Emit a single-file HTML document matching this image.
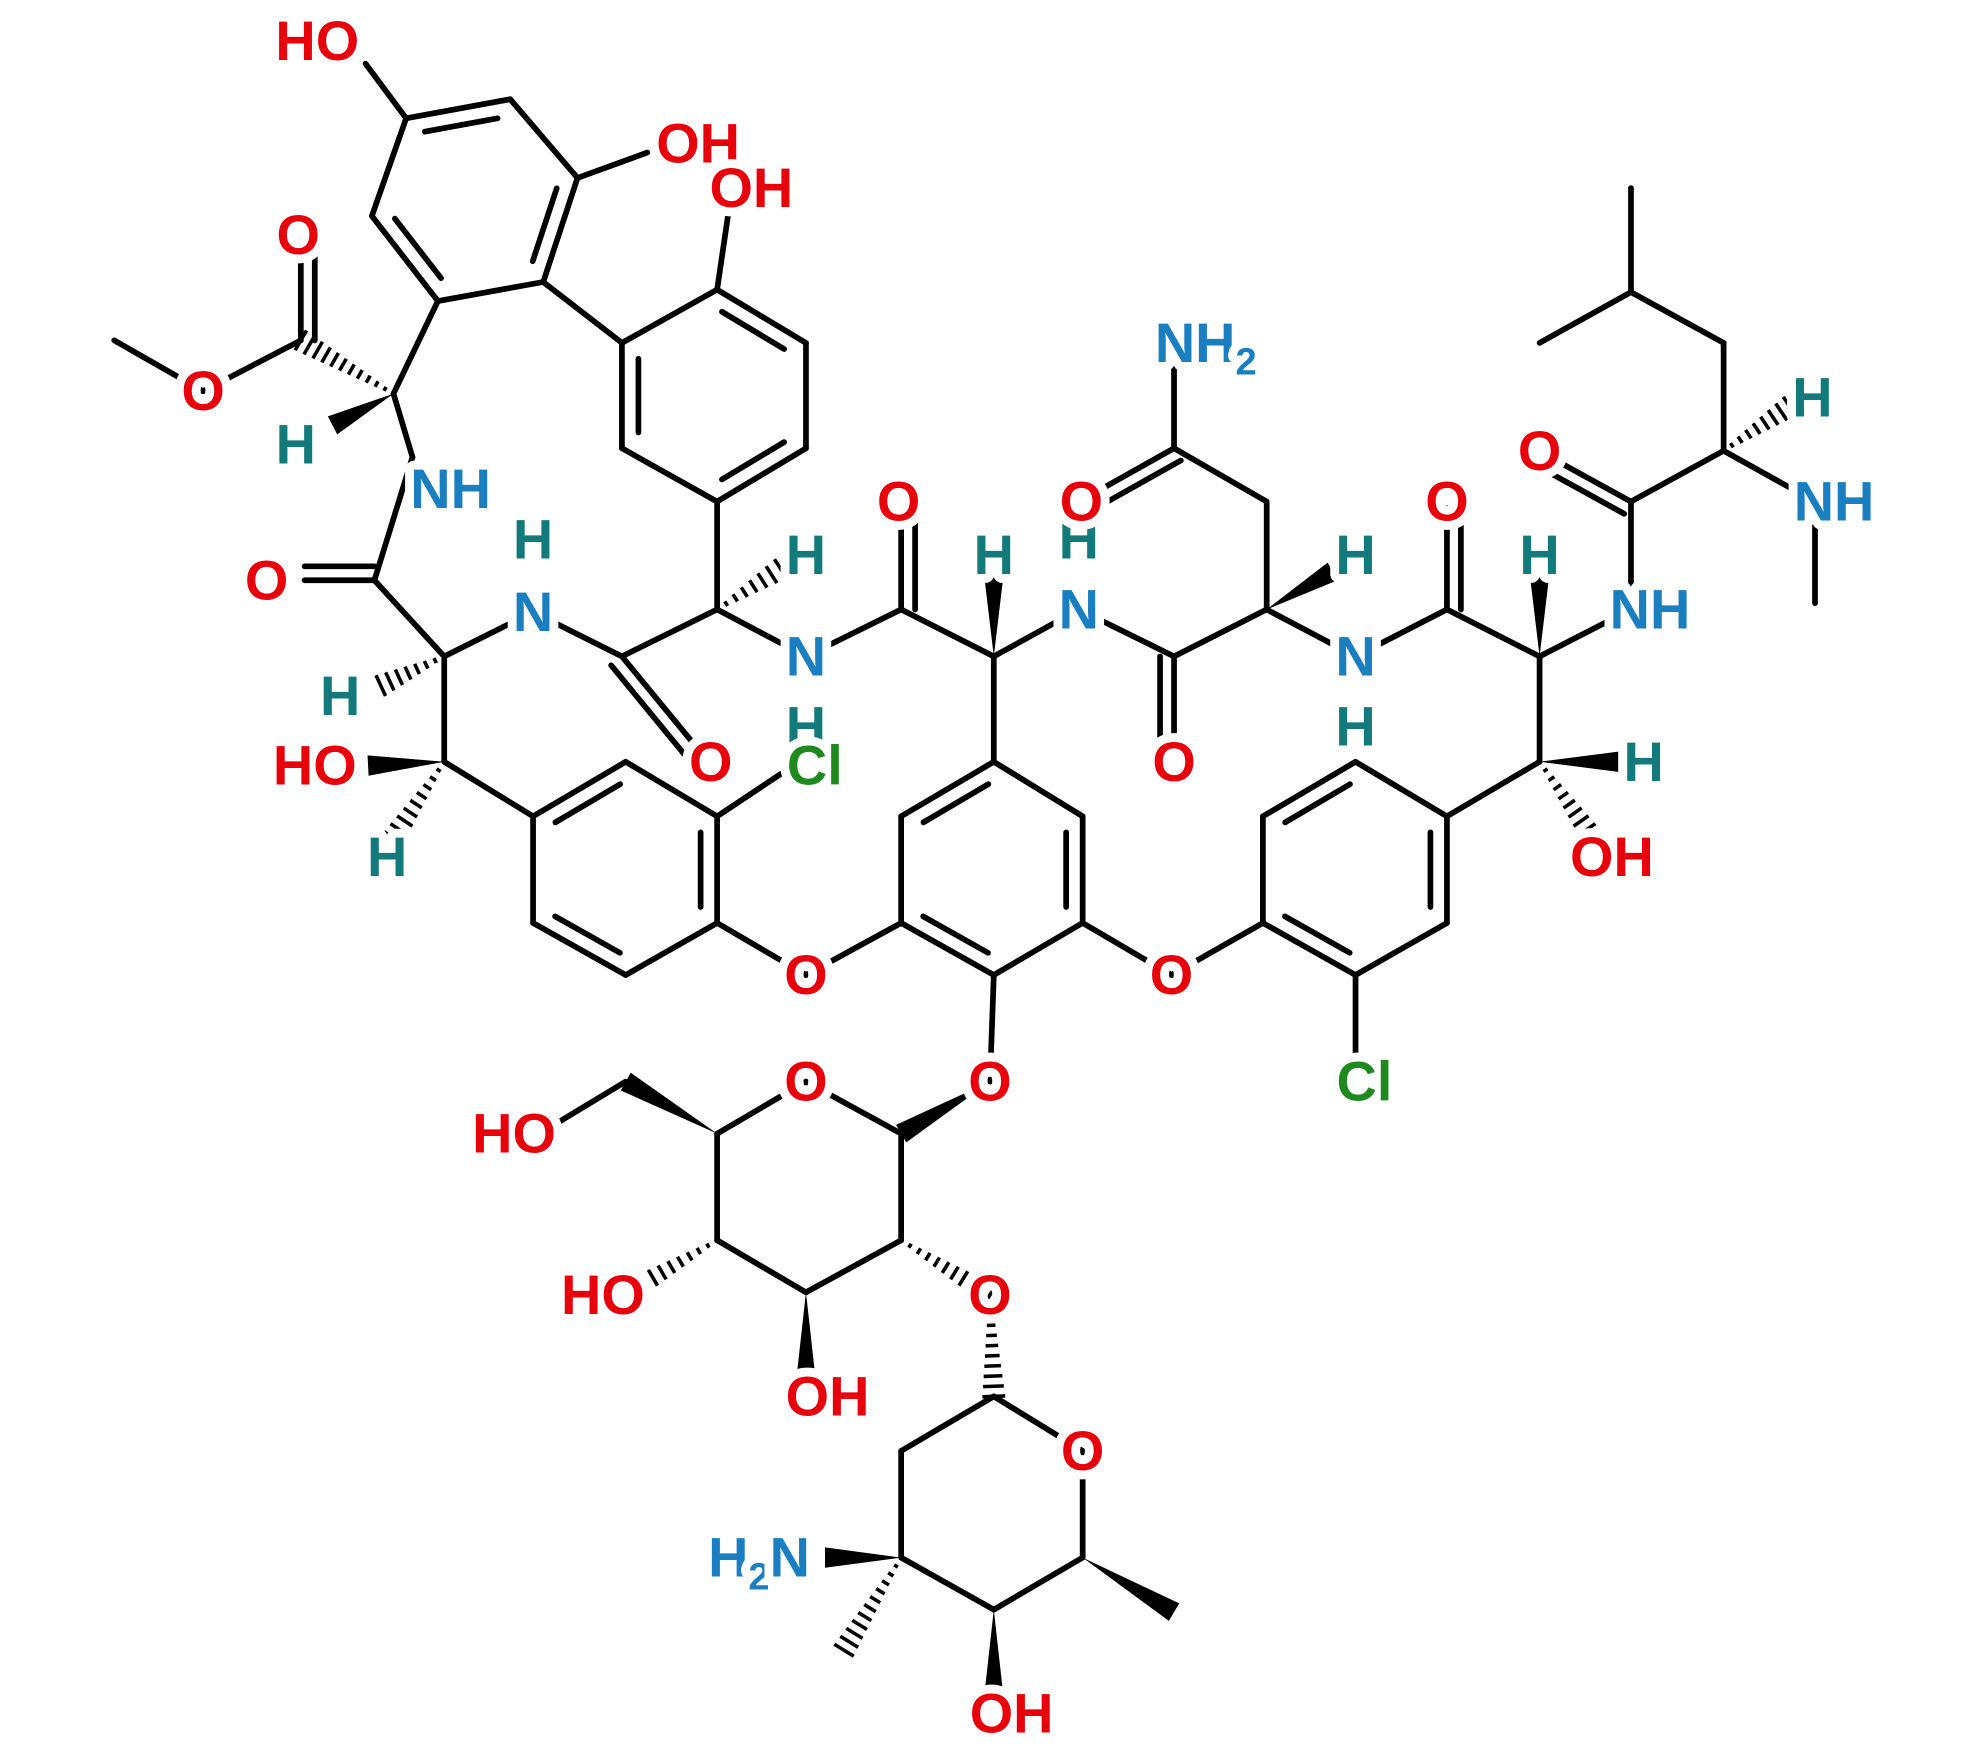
<!DOCTYPE html>
<html><head><meta charset="utf-8"><style>
html,body{margin:0;padding:0;background:#fff;}
svg{display:block;}
text{font-family:"Liberation Sans",Arial,sans-serif;font-weight:bold;font-size:44px;paint-order:stroke;stroke:#fff;stroke-width:14px;stroke-linejoin:round;}
</style></head><body>
<svg id="s" xmlns="http://www.w3.org/2000/svg" width="1980" height="1752" viewBox="0 0 1560 1380"></svg>
<script>
const s=document.getElementById('s');const NS='http://www.w3.org/2000/svg';
function el(t,a){const e=document.createElementNS(NS,t);for(const k in a)e.setAttribute(k,a[k]);s.appendChild(e);return e;}
const P={
a1:[320,93],a2:[402,78],a3:[455,140],a4:[428,222],a5:[345,237],a6:[293,170],
aHO:[288,50],aOH:[510,120],
ca1:[310,310],est:[237,268],estO:[237,190],estO2:[160,308],me:[90,268],h1:[262,335],
nh1:[325,360],c1:[295,457],o1:[240,457],ca2:[350,517],h2:[300,540],n2:[420,482],
c2:[490,517],o2:[550,590],ca3:[565,480],h3:[615,448],n3:[635,517],c3:[710,480],o3:[710,400],
ca4:[783,517],h4:[783,450],n4:[850,480],c4:[925,517],o4:[925,590],ca5:[998,480],h5:[1050,450],
cb5:[998,395],cam:[925,353],oam:[868,385],nam:[925,285],n5:[1068,517],c5:[1140,480],o5:[1140,400],
ca6:[1213,517],h6:[1213,450],n6:[1285,480],c6:[1285,395],o6:[1225,362],ca7:[1358,355],h7:[1410,320],
n7:[1430,395],me7:[1430,475],cb7:[1358,270],cg7:[1285,230],m71:[1285,148],m72:[1213,270],
cb6:[1213,600],hb6:[1275,600],ob6:[1255,660],
b1:[565,395],b2:[490,353],b3:[490,270],b4:[565,228],b5:[635,270],b6:[635,353],bOH:[575,160],
cb2:[350,600],hob2:[290,603],hb2:[310,660],
c_1:[420,643],c_2:[493,600],c_3:[565,643],c_4:[565,727],c_5:[493,768],c_6:[420,727],cl1:[625,603],
o7:[635,768],
e1:[783,600],e2:[853,643],e3:[853,727],e4:[783,768],e5:[710,727],e6:[710,643],
o8:[923,768],o9:[780,852],
d1:[1140,643],d2:[1068,600],d3:[995,643],d4:[995,727],d5:[1068,768],d6:[1140,727],cl2:[1068,840],
s1:[710,893],so:[635,852],s5:[565,893],s6:[493,852],s6o:[425,893],s4:[565,977],s4o:[500,1015],
s3:[635,1018],s3o:[635,1090],s2:[710,977],s2o:[780,1020],
t1:[783,1100],to:[853,1143],t5:[853,1227],t5m:[925,1270],t4:[783,1268],t4o:[783,1340],
t3:[710,1227],t3n:[650,1227],t3m:[665,1300],t2:[710,1143]
};
const W=4.5;
function line(a,b){el('line',{x1:a[0],y1:a[1],x2:b[0],y2:b[1],stroke:'#000','stroke-width':W,'stroke-linecap':'round'});}
function B(a,b){line(P[a],P[b]);}
function inner(a,b,cx,cy){const p=P[a],q=P[b];const dx=q[0]-p[0],dy=q[1]-p[1];const L=Math.hypot(dx,dy);let nx=-dy/L,ny=dx/L;
const mx=(p[0]+q[0])/2,my=(p[1]+q[1])/2;if((cx-mx)*nx+(cy-my)*ny<0){nx=-nx;ny=-ny;}const o=13,sh=0.15;
line([p[0]+dx*sh+nx*o,p[1]+dy*sh+ny*o],[q[0]-dx*sh+nx*o,q[1]-dy*sh+ny*o]);}
function ring(k,pairs){const pts=[1,2,3,4,5,6].map(i=>P[k+i]);const cx=pts.reduce((a,p)=>a+p[0],0)/6,cy=pts.reduce((a,p)=>a+p[1],0)/6;
for(let i=1;i<=6;i++)B(k+i,k+(i%6+1));pairs.forEach(([i,j])=>inner(k+i,k+j,cx,cy));}
function dbl(a,b,side){const p=P[a],q=P[b];const dx=q[0]-p[0],dy=q[1]-p[1];const L=Math.hypot(dx,dy);const nx=-dy/L*side*11,ny=dx/L*side*11;
line(p,q);line([p[0]+nx,p[1]+ny],[q[0]+nx,q[1]+ny]);}
function wedge(a,b){const p=P[a],q=P[b];const dx=q[0]-p[0],dy=q[1]-p[1];const L=Math.hypot(dx,dy);const nx=-dy/L*8,ny=dx/L*8;
el('polygon',{points:`${p[0]},${p[1]} ${q[0]+nx},${q[1]+ny} ${q[0]-nx},${q[1]-ny}`,fill:'#000'});}
function hash(a,b){const p=P[a],q=P[b];const dx=q[0]-p[0],dy=q[1]-p[1];const L=Math.hypot(dx,dy);const n=Math.max(5,Math.round(L/8));
for(let i=1;i<=n;i++){const t=i/n;const w=1+8*t;const nx=-dy/L*w,ny=dx/L*w;const x=p[0]+dx*t,y=p[1]+dy*t;
el('line',{x1:x+nx,y1:y+ny,x2:x-nx,y2:y-ny,stroke:'#000','stroke-width':2.8});}}
ring('a',[[1,2],[3,4],[5,6]]);ring('b',[[2,3],[4,5],[6,1]]);ring('c_',[]);
(function(){const k='c_';const pts=[1,2,3,4,5,6].map(i=>P[k+i]);const cx=pts.reduce((a,p)=>a+p[0],0)/6,cy=pts.reduce((a,p)=>a+p[1],0)/6;
[[1,2],[3,4],[5,6]].forEach(([i,j])=>inner(k+i,k+j,cx,cy));})();
ring('e',[[6,1],[2,3],[4,5]]);ring('d',[[2,3],[6,1],[4,5]]);
[['a1','aHO'],['a3','aOH'],['a5','ca1'],['est','estO2'],['estO2','me'],['ca1','nh1'],['nh1','c1'],['c1','ca2'],['ca2','n2'],['n2','c2'],
['c2','ca3'],['ca3','b1'],['ca3','n3'],['n3','c3'],['c3','ca4'],['ca4','n4'],['n4','c4'],['c4','ca5'],['ca5','cb5'],['cb5','cam'],['cam','nam'],
['ca5','n5'],['n5','c5'],['c5','ca6'],['ca6','n6'],['n6','c6'],['c6','ca7'],['ca7','n7'],['n7','me7'],['ca7','cb7'],['cb7','cg7'],['cg7','m71'],['cg7','m72'],
['ca6','cb6'],['cb6','d1'],['b4','bOH'],['b3','a4'],['ca2','cb2'],['cb2','c_1'],['c_3','cl1'],['c_4','o7'],['o7','e5'],['ca4','e1'],
['e3','o8'],['o8','d4'],['e4','o9'],['d5','cl2'],
['s1','so'],['so','s5'],['s5','s4'],['s4','s3'],['s3','s2'],['s2','s1'],['s6','s6o'],
['t1','to'],['to','t5'],['t5','t4'],['t4','t3'],['t3','t2'],['t2','t1']
].forEach(([a,b])=>B(a,b));
dbl('est','estO',1);dbl('c1','o1',1);dbl('c2','o2',1);dbl('c3','o3',1);dbl('c4','o4',1);dbl('cam','oam',-1);dbl('c5','o5',1);dbl('c6','o6',-1);
hash('ca1','est');wedge('ca1','h1');hash('ca2','h2');hash('ca3','h3');wedge('ca4','h4');wedge('ca5','h5');wedge('ca6','h6');hash('ca7','h7');
wedge('cb6','hb6');hash('cb6','ob6');wedge('cb2','hob2');hash('cb2','hb2');
wedge('o9','s1');wedge('s5','s6');hash('s4','s4o');wedge('s3','s3o');hash('s2','s2o');
hash('s2o','t1');wedge('t5','t5m');wedge('t4','t4o');wedge('t3','t3n');hash('t3','t3m');
const R='#e8000b',N='#1a7fc1',H='#127a7a',G='#1e8a1e';
function T(x,y,t,c,anchor){const e=el('text',{x:x,y:y+15,fill:c,'text-anchor':anchor||'middle'});e.innerHTML=t;}
T(250,32,'HO',R);T(550,113,'OH',R);T(592,148,'OH',R);T(235,185,'O',R);T(160,308,'O',R);T(233,350,'H',H);
T(355,385,'NH',N);T(210,457,'O',R);T(420,425,'H',H);T(420,482,'N',N);T(268,548,'H',H);T(560,600,'O',R);
T(635,437,'H',H);T(635,517,'N',N);T(635,572,'H',H);T(708,395,'O',R);T(783,437,'H',H);T(850,425,'H',H);T(850,480,'N',N);
T(925,600,'O',R);T(852,395,'O',R);T(950,270,'NH<tspan dy="10" font-size="30">2</tspan>',N);T(1068,437,'H',H);T(1068,517,'N',N);T(1068,572,'H',H);
T(1140,395,'O',R);T(1213,437,'H',H);T(1300,480,'NH',N);T(1213,355,'O',R);T(1428,313,'H',H);T(1445,395,'NH',N);
T(1295,600,'H',H);T(1270,675,'OH',R);T(248,603,'HO',R);T(305,675,'H',H);T(642,603,'Cl',G);T(635,768,'O',R);T(923,768,'O',R);
T(780,852,'O',R);T(1075,852,'Cl',G);T(635,852,'O',R);T(405,893,'HO',R);T(475,1020,'HO',R);T(652,1100,'OH',R);T(780,1020,'O',R);
T(853,1143,'O',R);T(598,1227,'H<tspan dy="10" font-size="30">2</tspan><tspan dy="-10">N</tspan>',N);T(797,1350,'OH',R);
</script>
</body></html>
